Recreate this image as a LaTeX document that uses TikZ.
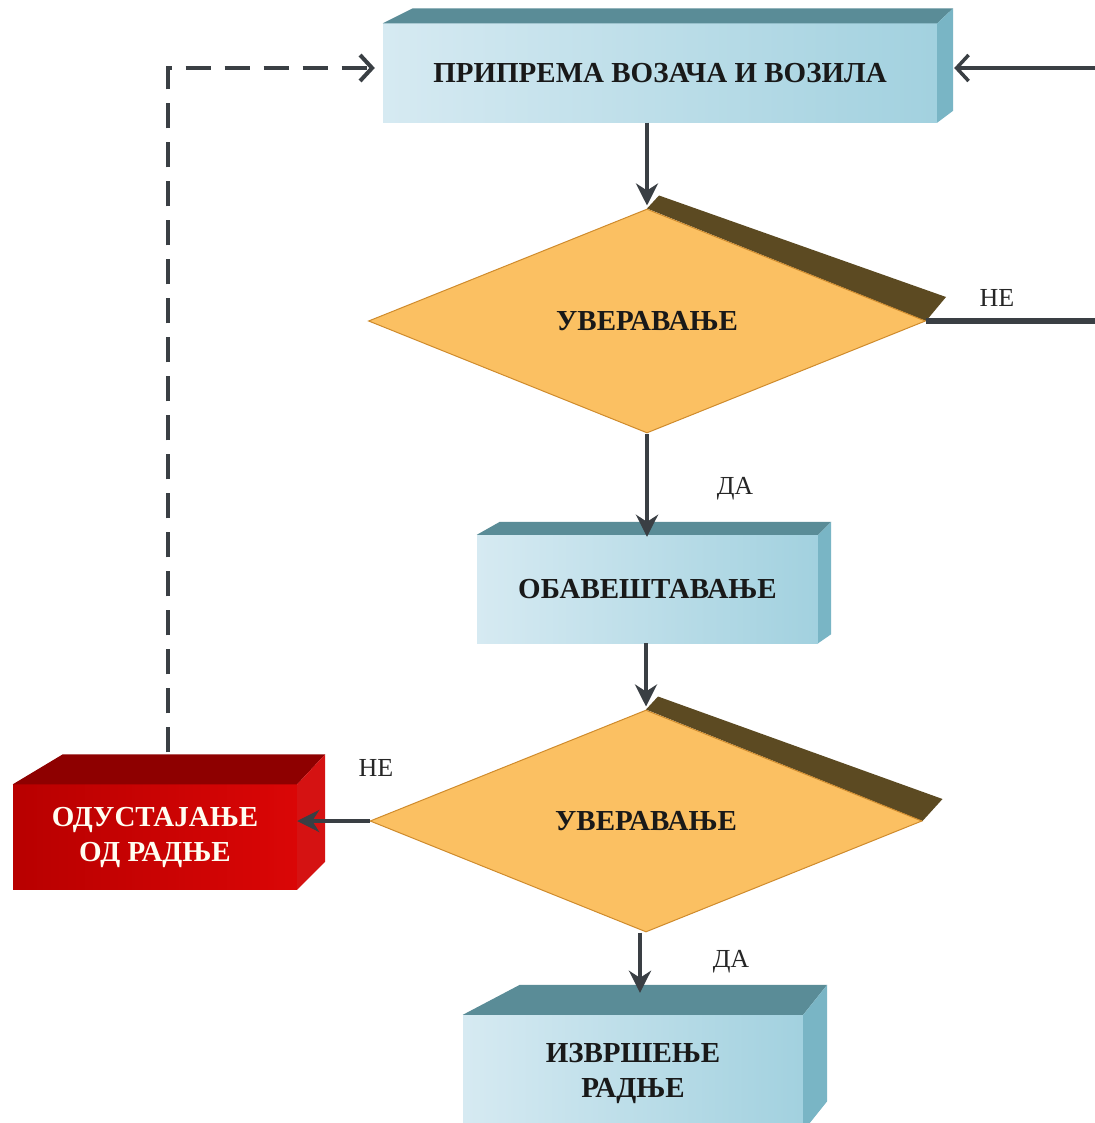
\documentclass[tikz,border=0pt]{standalone}
\usepackage{fontspec}
\setmainfont{Liberation Serif}
\usetikzlibrary{shapes.geometric,arrows.meta,calc}
\definecolor{arr}{HTML}{3A3F44}
\definecolor{bluefrontL}{HTML}{D6EAF2}
\definecolor{bluefrontR}{HTML}{A2D1DF}
\definecolor{bluetop}{HTML}{5A8C97}
\definecolor{blueside}{HTML}{79B5C5}
\definecolor{diafill}{HTML}{FBC062}
\definecolor{diaedge}{HTML}{CF8B2C}
\definecolor{diashadow}{HTML}{5C4A22}
\definecolor{redfrontL}{HTML}{B80000}
\definecolor{redfrontR}{HTML}{DA0606}
\definecolor{redtop}{HTML}{8E0000}
\definecolor{redside}{HTML}{D51212}
\pgfdeclarelayer{back}
\pgfsetlayers{back,main}
\tikzset{
  bluebox/.style={rectangle, inner sep=0pt, left color=bluefrontL, right color=bluefrontR,
    font=\fontsize{29}{35}\selectfont\bfseries, text=black!90, align=center},
  redbox/.style={rectangle, inner sep=0pt, left color=redfrontL, right color=redfrontR,
    font=\fontsize{29}{35}\selectfont\bfseries, text=white!95!yellow, align=center},
  decision/.style={diamond, inner sep=0pt, fill=diafill, draw=diaedge, line width=1pt,
    font=\fontsize{29}{34}\selectfont\bfseries, text=black!90},
  lbl/.style={font=\fontsize{26}{30}\selectfont, text=black!85},
  flow/.style={draw=arr, line width=4pt, -{Stealth[length=22pt,width=22pt,inset=7pt]}},
  barb/.style={draw=arr, -{Straight Barb[length=12pt,width=26pt]}}
}
\begin{document}
\begin{tikzpicture}[x=1pt,y=-1pt]
\useasboundingbox (0,0) rectangle (1094,1123);
\begin{pgfonlayer}{back}
\fill[white] (0,0) rectangle (1094,1123);
\end{pgfonlayer}

% boxes
\node[bluebox, minimum width=554pt, minimum height=99pt] (b1) at (660,73) {ПРИПРЕМА ВОЗАЧА И ВОЗИЛА};
\fill[bluetop] (b1.north west) -- ++(30,-15) -- ($(b1.north east)+(16,-15)$) -- (b1.north east) -- cycle;
\fill[blueside] (b1.north east) -- ++(16,-15) -- ($(b1.south east)+(16,-12)$) -- (b1.south east) -- cycle;

\node[decision, minimum width=557pt, minimum height=224pt] (d1) at (647,321) {УВЕРАВАЊЕ};
\begin{pgfonlayer}{back}
\fill[diashadow] (d1.north) -- ++(12,-13) -- ($(d1.east)+(20,-24)$) -- (d1.east) -- cycle;
\end{pgfonlayer}

\node[bluebox, minimum width=341pt, minimum height=108pt] (b2) at (647.5,589) {ОБАВЕШТАВАЊЕ};
\fill[bluetop] (b2.north west) -- ++(23,-13) -- ($(b2.north east)+(13,-13)$) -- (b2.north east) -- cycle;
\fill[blueside] (b2.north east) -- ++(13,-13) -- ($(b2.south east)+(13,-9)$) -- (b2.south east) -- cycle;

\node[decision, minimum width=552pt, minimum height=222pt] (d2) at (646,821) {УВЕРАВАЊЕ};
\begin{pgfonlayer}{back}
\fill[diashadow] (d2.north) -- ++(12,-13) -- ($(d2.east)+(20,-22)$) -- (d2.east) -- cycle;
\end{pgfonlayer}

\node[redbox, minimum width=284pt, minimum height=105pt] (r) at (155,837) {ОДУСТАЈАЊЕ\\ОД РАДЊЕ};
\fill[redtop] (r.north west) -- ++(50,-30) -- ($(r.north east)+(28,-30)$) -- (r.north east) -- cycle;
\fill[redside] (r.north east) -- ++(28,-30) -- ($(r.south east)+(28,-28)$) -- (r.south east) -- cycle;

\node[bluebox, minimum width=340pt, minimum height=116pt] (b3) at (633,1073) {ИЗВРШЕЊЕ\\РАДЊЕ};
\fill[bluetop] (b3.north west) -- ++(57,-30) -- ($(b3.north east)+(24,-30)$) -- (b3.north east) -- cycle;
\fill[blueside] (b3.north east) -- ++(24,-30) -- ($(b3.south east)+(24,-30)$) -- (b3.south east) -- cycle;

% coordinates
\coordinate (rc1) at (1104,322);
\coordinate (rc2) at (1104,68);
\coordinate (b1r) at ($(b1.east)+(17,0)$);
\coordinate (dc) at (168,68);

% connectors
\draw[flow] (b1.south -| d1.north) -- ([yshift=3pt]d1.north);
\draw[flow] (d1.south) -- ([yshift=-2pt]d1.south |- b2.north);
\draw[flow] (b2.south -| d2.north) -- ([yshift=3pt]d2.north);
\draw[flow] ([xshift=-6pt]d2.south) -- ([xshift=-6pt,yshift=22pt]d2.south |- b3.north);
\draw[flow] (d2.west) -- (d2.west -| r.east);
\draw[draw=arr, line width=6pt] (d1.east) -- (d1.east -| rc1) -- (rc2);
\draw[barb, line width=3.5pt] (rc2) -- (rc2 -| b1r);
\draw[barb, line width=4pt, dash pattern=on 25pt off 14pt] ([yshift=32pt]r.north -| dc) -- (dc) -- ([xshift=-8pt]dc -| b1.west);

% labels
\node[lbl] (ne1) at (997,298) {НЕ};
\node[lbl] (da1) at (735,489) {ДА};
\node[lbl] (ne2) at (376,768) {НЕ};
\node[lbl] (da2) at (731,962) {ДА};
\end{tikzpicture}
\end{document}
